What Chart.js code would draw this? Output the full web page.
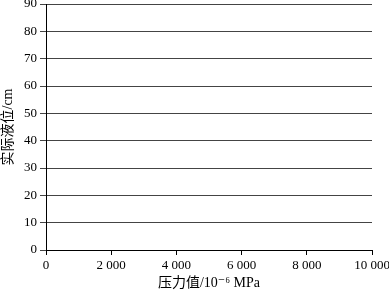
<!doctype html>
<html lang="zh">
<head>
<meta charset="UTF-8">
<title>压力值-实际液位</title>
<script src="https://cdn.jsdelivr.net/npm/chart.js"></script>
<style>
html,body{margin:0;padding:0;background:#fff;}
#wrap{position:relative;width:389px;height:292px;}
</style>
</head>
<body>
<div id="wrap"><canvas id="chart" width="389" height="292"></canvas></div>
<script>
/* ---------- data (the figure shows empty axes only) ---------- */
const pressure = [];          // 压力值 /10^-6 MPa
const level    = [];          // 实际液位 /cm
const xTicks   = [0, 2000, 4000, 6000, 8000, 10000];
const yTicks   = [0, 10, 20, 30, 40, 50, 60, 70, 80, 90];
const xTitle   = "压力值/10⁻⁶ MPa";
const yTitle   = "实际液位/cm";

const FONT = "'Liberation Serif','DejaVu Serif','Noto Sans CJK SC',serif";
const fmt = v => String(v).replace(/\B(?=(\d{3})+(?!\d))/g, " ");

const points = pressure.map((x, i) => ({x, y: level[i]}));

new Chart(document.getElementById("chart"), {
  type: "scatter",
  data: {datasets: [{data: points, pointRadius: 3, borderColor: "#000", backgroundColor: "#000"}]},
  options: {
    responsive: false,
    animation: false,
    layout: {padding: {top: 4, right: 17, left: 0, bottom: 0}},
    plugins: {legend: {display: false}, tooltip: {enabled: false}},
    scales: {
      x: {
        type: "linear",
        min: xTicks[0], max: xTicks[xTicks.length - 1],
        afterBuildTicks: s => { s.ticks = xTicks.map(v => ({value: v})); },
        afterFit: s => { s.height = 42; s.paddingLeft = 0; s.paddingRight = 0; },
        border: {color: "#000", width: 1},
        grid: {drawOnChartArea: false, drawTicks: true, tickLength: 5, color: "#000"},
        ticks: {color: "#000", padding: 3, maxRotation: 0, font: {family: FONT, size: 13}, callback: v => fmt(v)},
        title: {display: true, text: xTitle, color: "#000", padding: {top: 2, bottom: 0}, font: {family: FONT, size: 14}}
      },
      y: {
        type: "linear",
        min: yTicks[0], max: yTicks[yTicks.length - 1],
        afterBuildTicks: s => { s.ticks = yTicks.map(v => ({value: v})); },
        afterFit: s => { s.width = 46; s.paddingTop = 0; s.paddingBottom = 0; },
        border: {color: "#000", width: 1},
        grid: {color: "#444", lineWidth: 1, drawTicks: true, tickLength: 6},
        ticks: {color: "#000", padding: 3, font: {family: FONT, size: 13}},
        title: {display: true, text: yTitle, color: "#000", padding: {top: 0, bottom: 0}, font: {family: FONT, size: 14}}
      }
    }
  }
});
</script>
</body>
</html>
